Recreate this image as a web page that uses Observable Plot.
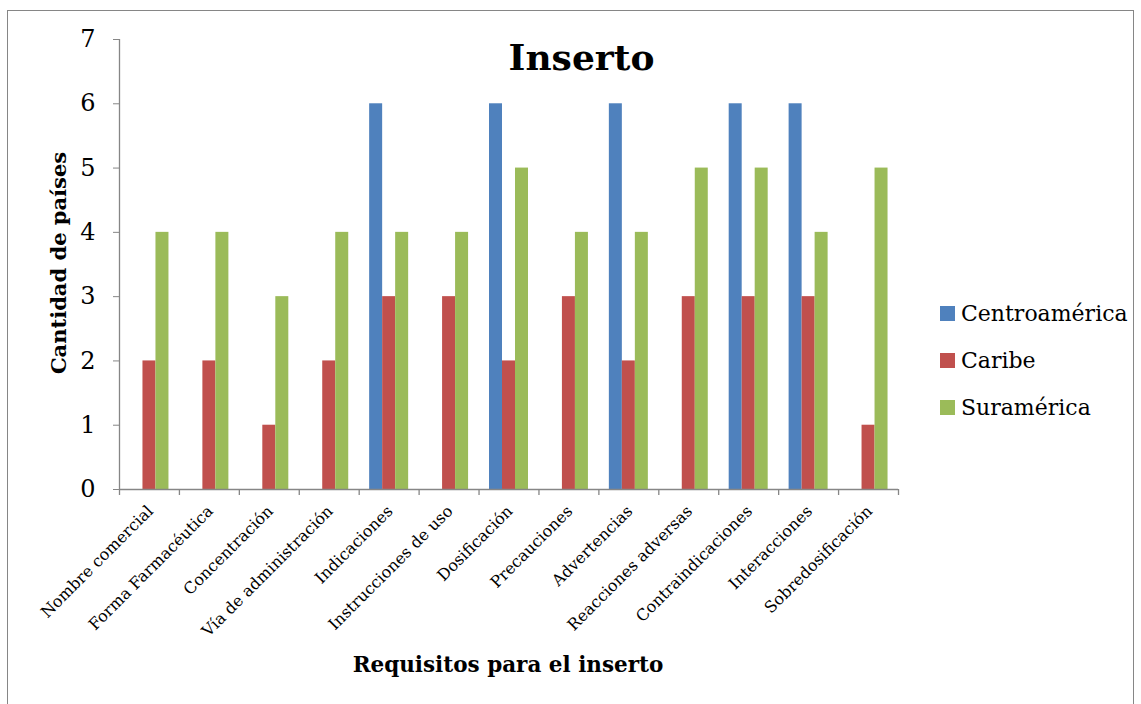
<!DOCTYPE html>
<html><head><meta charset="utf-8">
<script src="https://cdn.jsdelivr.net/npm/d3@7"></script>
<script src="https://cdn.jsdelivr.net/npm/@observablehq/plot@0.6"></script>
<style>
body{margin:0;background:#fff;}
#wrap{position:relative;width:1141px;height:704px;overflow:hidden;font-family:"DejaVu Serif",serif;color:#000;}
#frame{position:absolute;left:7px;top:10px;width:1127px;height:720px;border:1px solid #868686;box-sizing:border-box;}
#chart{position:absolute;left:0;top:0;}
#title{position:absolute;left:0;width:1163px;top:36px;text-align:center;font-weight:bold;font-size:36px;}
#ytitle{position:absolute;left:58px;top:263px;transform:translate(-50%,-50%) rotate(-90deg);font-weight:bold;font-size:21px;white-space:nowrap;}
#xtitle{position:absolute;left:508px;top:664px;transform:translate(-50%,-50%);font-weight:bold;font-size:21.5px;white-space:nowrap;}
#legend{position:absolute;left:940px;top:290px;}
.li{display:flex;align-items:center;height:47px;font-size:22px;}
.sw{width:15px;height:15px;margin-right:6px;}
</style></head>
<body>
<div id="wrap">
  <div id="frame"></div>
  <div id="chart"></div>
  <div id="title"></div>
  <div id="ytitle"></div>
  <div id="xtitle"></div>
  <div id="legend"></div>
</div>
<script>
const titleText = "Inserto";
const yTitle = "Cantidad de países";
const xTitle = "Requisitos para el inserto";
const categories = ["Nombre comercial","Forma Farmacéutica","Concentración","Vía de administración","Indicaciones","Instrucciones de uso","Dosificación","Precauciones","Advertencias","Reacciones adversas","Contraindicaciones","Interacciones","Sobredosificación"];
const seriesNames = ["Centroamérica","Caribe","Suramérica"];
const centroamerica = [0,0,0,0,6,0,6,0,6,0,6,6,0];
const caribe = [2,2,1,2,3,3,2,3,2,3,3,3,1];
const suramerica = [4,4,3,4,4,4,5,4,4,5,5,4,5];
const colors = ["#4F81BD","#C0504D","#9BBB59"];
const yTicks = [0,1,2,3,4,5,6,7];

document.getElementById("title").textContent = titleText;
document.getElementById("ytitle").textContent = yTitle;
document.getElementById("xtitle").textContent = xTitle;

const seriesValues = [centroamerica, caribe, suramerica];
const rows = [];
seriesNames.forEach((s, si) => categories.forEach((c, ci) => rows.push({category: c, series: s, value: seriesValues[si][ci]})));

const W = 1141, H = 704;
const bandW = (W - 119 - 243) / categories.length;
const barW = 13;
const inset = (bandW - barW) / 2;
const offsets = [-barW, 0, barW];
const axisGray = "#868686";

const marks = [];
seriesNames.forEach((s, si) => {
  marks.push(Plot.barY(rows.filter(r => r.series === s && r.value > 0), {
    x: "category", y: "value", fill: "series",
    dx: offsets[si], insetLeft: inset, insetRight: inset
  }));
});
marks.push(Plot.ruleY([0], {stroke: axisGray, strokeWidth: 1.3}));
marks.push(Plot.ruleX([categories[0]], {y1: 0, y2: 7, dx: -bandW/2, stroke: axisGray, strokeWidth: 1.3}));
marks.push(Plot.ruleX(categories, {y1: 0, y2: 0, insetBottom: -6, dx: -bandW/2, stroke: axisGray, strokeWidth: 1.3}));
marks.push(Plot.ruleX([categories[categories.length-1]], {y1: 0, y2: 0, insetBottom: -6, dx: bandW/2, stroke: axisGray, strokeWidth: 1.3}));
marks.push(Plot.axisY({ticks: yTicks, tickSize: 6, tickPadding: 18, fontSize: 24, stroke: axisGray, fill: "#000", tickFormat: d => d, label: null}));
marks.push(Plot.axisX({tickSize: 0, tickRotate: -45, tickPadding: 19, dx: 1, fontSize: 16, fill: "#000", label: null}));

const chart = Plot.plot({
  width: W, height: H,
  marginLeft: 119, marginRight: 243, marginTop: 39, marginBottom: 215,
  style: {background: "transparent", fontFamily: "'DejaVu Serif', serif", color: "#000"},
  x: {type: "band", domain: categories, padding: 0, round: false},
  y: {domain: [0, 7]},
  color: {domain: seriesNames, range: colors},
  marks
});
document.getElementById("chart").appendChild(chart);

const lg = document.getElementById("legend");
seriesNames.forEach((s, i) => {
  const d = document.createElement("div"); d.className = "li";
  const sw = document.createElement("div"); sw.className = "sw"; sw.style.background = colors[i];
  const t = document.createElement("span"); t.textContent = s;
  d.appendChild(sw); d.appendChild(t); lg.appendChild(d);
});
</script>
</body></html>
